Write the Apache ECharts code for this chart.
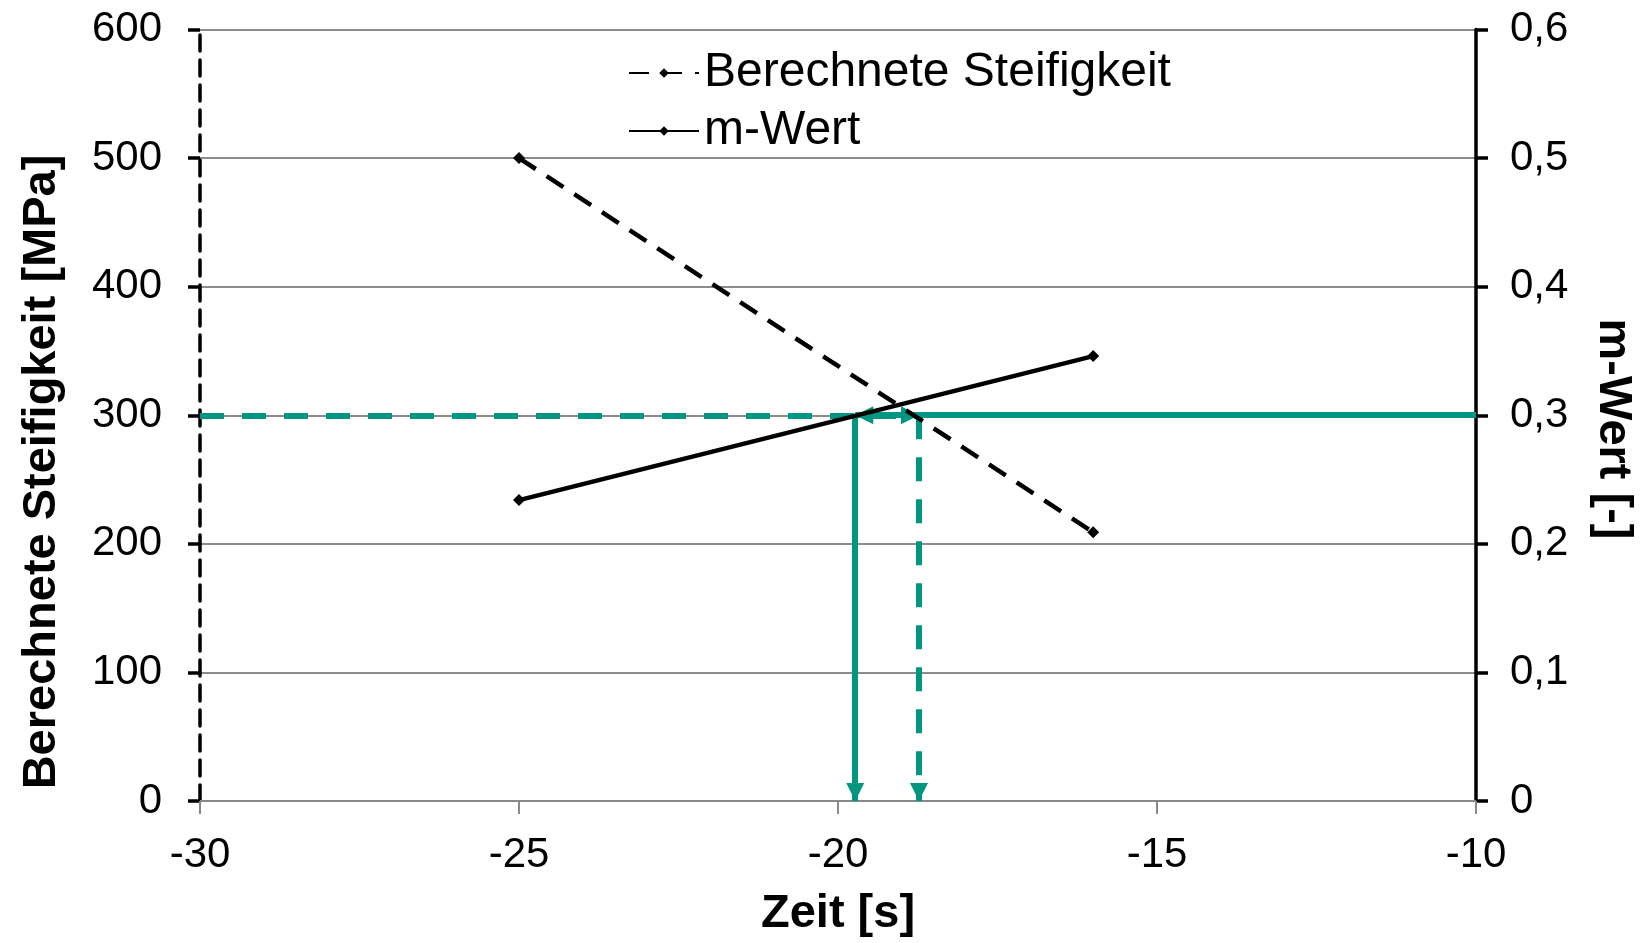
<!DOCTYPE html>
<html>
<head>
<meta charset="utf-8">
<script src="https://cdn.jsdelivr.net/npm/echarts@6/dist/echarts.min.js"></script>
<style>
html,body{margin:0;padding:0;background:#fff;}
#chart{width:1641px;height:943px;}
</style>
</head>
<body>
<div id="chart"></div>
<script>
// ---- data ----
const zeit = [-25, -16];
const steifigkeit = [500, 209];
const mWert = [0.234, 0.346];
const xTicks = [-30, -25, -20, -15, -10];
const grenzSteifigkeit = 300;   // MPa
const grenzMWert = 0.3;         // [-]
const zeitMWert = -19.73;       // crossing m-Wert = 0.3
const zeitSteifigkeit = -18.73; // crossing Steifigkeit = 300

const GREEN = '#009682';
const FONT = 'Liberation Sans, Arial, sans-serif';

const chart = echarts.init(document.getElementById('chart'), null, {renderer: 'canvas'});

const arrowCommon = {
  silent: true,
  animation: false,
  label: {show: false},
  emphasis: {disabled: true},
  symbol: ['none', 'triangle'],
  symbolSize: [18, 18],
  symbolOffset: [0, [0, 9]]
};

chart.setOption({
  animation: false,
  backgroundColor: '#fff',
  textStyle: {fontFamily: FONT},
  grid: {left: 200, right: 165, top: 29.5, bottom: 128, containLabel: false},
  legend: {
    data: ['Berechnete Steifigkeit', 'm-Wert'],
    orient: 'vertical',
    left: 623,
    top: 44,
    itemWidth: 70,
    itemHeight: 12,
    itemGap: 10,
    textStyle: {fontSize: 48, color: '#000', fontFamily: FONT}
  },
  graphic: [
    {
      type: 'text', x: 42, y: 472, rotation: Math.PI / 2, silent: true,
      style: {text: 'Berechnete Steifigkeit [MPa]', font: 'bold 47px ' + FONT,
              fill: '#000', textAlign: 'center', textVerticalAlign: 'middle'}
    },
    {
      type: 'text', x: 1613, y: 429, rotation: -Math.PI / 2, silent: true,
      style: {text: 'm-Wert [-]', font: 'bold 47px ' + FONT,
              fill: '#000', textAlign: 'center', textVerticalAlign: 'middle'}
    }
  ],
  xAxis: {
    type: 'value',
    min: xTicks[0],
    max: xTicks[xTicks.length - 1],
    interval: 5,
    name: 'Zeit [s]',
    nameLocation: 'middle',
    nameGap: 90,
    nameTextStyle: {fontSize: 47, fontWeight: 'bold', color: '#000', fontFamily: FONT},
    axisLine: {onZero: false, lineStyle: {color: '#888', width: 2}},
    axisTick: {length: 13, lineStyle: {color: '#888', width: 2}},
    axisLabel: {fontSize: 42, color: '#000', margin: 33, fontFamily: FONT},
    splitLine: {show: false}
  },
  yAxis: [
    {
      type: 'value',
      min: 0, max: 600, interval: 100,
      position: 'left',
      axisLine: {show: true, onZero: false, lineStyle: {color: '#000', width: 3.5, type: [16, 9]}},
      axisTick: {show: true, length: 12, lineStyle: {color: '#000', width: 3.5}},
      axisLabel: {fontSize: 42, color: '#000', margin: 38, fontFamily: FONT},
      splitLine: {show: true, lineStyle: {color: '#8c8c8c', width: 1.8}}
    },
    {
      type: 'value',
      min: 0, max: 0.6, interval: 0.1,
      position: 'right',
      axisLine: {show: true, onZero: false, lineStyle: {color: '#000', width: 3.5}},
      axisTick: {show: true, length: 12, lineStyle: {color: '#000', width: 3.5}},
      axisLabel: {
        fontSize: 42, color: '#000', margin: 34, fontFamily: FONT,
        formatter: v => v === 0 ? '0' : v.toFixed(1).replace('.', ',')
      },
      splitLine: {show: false}
    }
  ],
  series: [
    {
      name: 'annot-left',
      type: 'line',
      yAxisIndex: 0,
      data: [],
      markLine: Object.assign({}, arrowCommon, {
        data: [
          [{coord: [xTicks[0], grenzSteifigkeit]}, {coord: [zeitSteifigkeit, grenzSteifigkeit]}],
          [{coord: [zeitSteifigkeit, grenzSteifigkeit]}, {coord: [zeitSteifigkeit, 0]}]
        ],
        lineStyle: {color: GREEN, width: 6, type: [24, 18]}
      })
    },
    {
      name: 'annot-right',
      type: 'line',
      yAxisIndex: 1,
      data: [],
      markLine: Object.assign({}, arrowCommon, {
        data: [
          [{coord: [xTicks[xTicks.length - 1], grenzMWert]}, {coord: [zeitMWert, grenzMWert]}],
          [{coord: [zeitMWert, grenzMWert]}, {coord: [zeitMWert, 0]}]
        ],
        lineStyle: {color: GREEN, width: 6, type: 'solid'}
      })
    },
    {
      name: 'Berechnete Steifigkeit',
      type: 'line',
      yAxisIndex: 0,
      data: zeit.map((x, i) => [x, steifigkeit[i]]),
      symbol: 'diamond',
      symbolSize: 12,
      itemStyle: {color: '#000'},
      lineStyle: {color: '#000', width: 4.5, type: [20, 13]},
      z: 5
    },
    {
      name: 'm-Wert',
      type: 'line',
      yAxisIndex: 1,
      data: zeit.map((x, i) => [x, mWert[i]]),
      symbol: 'diamond',
      symbolSize: 12,
      itemStyle: {color: '#000'},
      lineStyle: {color: '#000', width: 4.5},
      z: 5
    }
  ]
});
</script>
</body>
</html>
